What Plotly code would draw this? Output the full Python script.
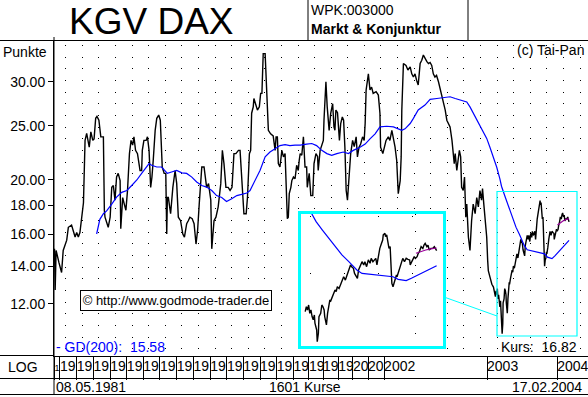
import plotly.graph_objects as go

# ---------------- data ----------------
KGV_IDX = [0, 2, 5, 9, 14, 22, 27, 38, 43, 53, 58, 64, 69, 74, 79, 85, 90, 95, 100, 102,
           108, 113, 119, 123, 128, 132, 138, 144, 152, 155, 157, 167, 173, 178, 183, 188, 193, 198, 204, 206,
           212, 216, 222, 227, 233, 238, 243, 247, 252, 258, 264, 266, 271, 273, 278, 285, 289, 294, 299, 303,
           307, 313, 318, 324, 329, 335, 341, 346, 349, 351, 354, 361, 368, 375, 380, 385, 392, 399, 404, 411,
           416, 421, 428, 434, 440, 445, 450, 458, 465, 473, 479, 486, 489, 496, 502, 509, 517, 522, 527, 533,
           540, 546, 552, 558, 564, 572, 577, 582, 589, 596, 600, 606, 610, 613, 618, 620, 627, 631, 637, 641,
           645, 649, 655, 660, 665, 672, 680, 686, 689, 693, 696, 701, 707, 712, 717, 722, 724, 727, 730, 735,
           738, 743, 748, 753, 758, 761, 764, 769, 774, 779, 784, 786, 792, 797, 803, 807, 813, 818, 820, 826,
           836, 838, 844, 848, 854, 859, 865, 869, 872, 875, 880, 886, 890, 895, 899, 903, 907, 911, 917, 921,
           927, 932, 938, 942, 947, 952, 958, 963, 966, 969, 976, 981, 986, 991, 1000, 1007, 1012, 1014, 1021, 1026,
           1031, 1038, 1043, 1049, 1054, 1059, 1064, 1066, 1069, 1075, 1078, 1080, 1085, 1093, 1099, 1106, 1111, 1116, 1121, 1126,
           1131, 1137, 1142, 1147, 1152, 1158, 1163, 1168, 1173, 1178, 1183, 1188, 1194, 1199, 1204, 1209, 1215, 1220, 1225, 1230,
           1236, 1240, 1243, 1246, 1251, 1255, 1259, 1263, 1266, 1271, 1275, 1279, 1282, 1287, 1292, 1297, 1302, 1308, 1313, 1318,
           1323, 1328, 1331, 1335, 1339, 1344, 1347, 1349, 1354, 1360, 1365,
           1371, 1373, 1375, 1377, 1379, 1381, 1383, 1385, 1387, 1388, 1391, 1392, 1394, 1395, 1398, 1400, 1402, 1404, 1405, 1408,
           1410, 1411, 1414, 1415, 1418, 1421, 1423, 1425, 1427, 1430, 1432, 1435, 1438, 1441, 1444, 1447, 1450, 1452, 1455, 1457,
           1459, 1462, 1464, 1467, 1470, 1473, 1475, 1478, 1481, 1484, 1486, 1489, 1491, 1494, 1496, 1498, 1501, 1504, 1506, 1507,
           1510, 1511, 1513, 1515, 1517, 1519, 1521, 1522, 1524, 1526, 1528, 1530, 1531, 1534, 1535, 1537, 1540, 1541, 1544, 1547,
           1550, 1553, 1554, 1557, 1559, 1561, 1563, 1566, 1568, 1570, 1573, 1576, 1578, 1580, 1583, 1585, 1587, 1590, 1593, 1596,
           1600]
KGV_VAL = [15.05, 12.70, 14.95, 14.55, 14.20, 13.65, 14.95, 15.60, 16.45, 16.60, 16.25, 15.80, 16.10, 15.80, 16.10, 17.40, 18.20, 23.55, 24.25, 23.90,
           22.90, 24.40, 23.55, 23.70, 25.80, 26.00, 25.60, 23.90, 23.90, 17.65, 17.15, 16.45, 17.15, 19.40, 19.55, 18.40, 20.25, 20.55, 19.95, 16.35,
           18.60, 18.20, 17.65, 19.15, 22.30, 23.55, 23.10, 23.90, 22.60, 22.30, 21.40, 20.80, 20.80, 22.60, 23.55, 23.55, 23.90, 22.60, 19.40, 20.25,
           21.70, 24.55, 25.80, 26.15, 25.60, 21.10, 20.55, 20.55, 16.00, 18.60, 18.60, 17.40, 19.40, 20.80, 19.70, 17.15, 16.90, 16.00, 15.80, 16.70,
           16.90, 17.15, 17.05, 16.70, 15.35, 16.25, 18.10, 21.10, 21.10, 19.40, 19.70, 18.40, 15.05, 16.90, 17.15, 17.90, 19.70, 22.60, 21.40, 19.40,
           19.40, 19.15, 19.40, 22.30, 22.30, 22.60, 22.60, 19.95, 17.40, 17.40, 18.60, 22.30, 22.60, 26.35, 27.05, 28.00, 27.25, 26.70, 27.05, 28.60,
           28.60, 33.70, 33.70, 29.00, 24.55, 24.20, 24.00, 22.60, 23.90, 23.90, 21.40, 21.10, 22.60, 22.00, 22.30, 18.40, 17.05, 17.15, 18.90, 19.40,
           19.95, 20.25, 20.10, 21.25, 20.80, 21.70, 22.30, 22.15, 23.90, 21.10, 21.10, 19.40, 20.55, 18.75, 18.75, 21.40, 22.30, 22.05, 20.80, 22.60,
           23.55, 25.60, 30.00, 27.05, 24.55, 26.35, 27.40, 24.90, 24.55, 26.70, 26.40, 23.55, 25.25, 25.95, 25.60, 22.90, 19.15, 18.40, 20.80, 22.30,
           23.55, 22.95, 23.90, 22.00, 22.90, 23.20, 23.90, 23.55, 25.25, 29.00, 31.00, 29.00, 29.35, 28.60, 28.80, 28.40, 26.35, 22.90, 22.30, 22.95,
           23.55, 23.90, 23.55, 24.55, 23.70, 22.90, 21.70, 20.55, 18.90, 19.95, 22.00, 26.70, 32.35, 32.10, 31.50, 31.90, 31.00, 30.60, 31.00, 30.20,
           29.60, 32.35, 32.80, 33.50, 33.00, 32.60, 32.35, 32.50, 32.10, 31.00, 30.60, 30.80, 30.00, 29.20, 28.20, 27.40, 26.70, 25.60, 25.25, 24.90,
           23.55, 22.60, 21.40, 22.30, 20.80, 21.70, 22.60, 22.00, 19.40, 19.15, 20.25, 17.15, 18.10, 15.80, 14.95, 16.90, 18.10, 17.40, 18.60, 17.90,
           19.15, 18.40, 19.30, 18.10, 16.90, 15.80, 14.35, 13.75, 13.40, 13.00, 12.85,
           12.35, 12.66, 12.45, 12.77, 12.24, 12.45, 12.04, 11.84, 12.14, 11.64, 11.25, 10.60, 11.06, 12.04, 12.24, 12.77, 12.66, 12.45, 12.04, 11.54,
           12.24, 12.45, 13.10, 12.99, 13.32, 13.55, 13.78, 13.66, 14.01, 13.89, 14.13, 14.37, 14.74, 14.49, 14.87, 15.25, 15.65, 15.51, 15.38, 14.99,
           14.87, 14.62, 15.25, 15.65, 15.91, 15.65, 15.91, 15.51, 16.05, 15.78, 16.18, 15.91, 16.05, 16.18, 15.65, 16.32, 17.02, 17.46, 17.76, 18.22,
           18.37, 18.06, 18.22, 17.61, 17.02, 17.17, 15.65, 14.25, 14.01, 14.37, 14.49, 14.87, 14.74, 15.12, 15.38, 15.65, 16.05, 16.18, 15.91, 16.18,
           16.10, 16.05, 15.65, 15.91, 16.05, 16.32, 16.18, 16.32, 16.60, 16.74, 17.17, 17.02, 17.31, 17.46, 17.17, 17.31, 16.88, 17.02, 17.02, 17.17,
           16.82]

GD200_IDX = [131, 136, 141, 152, 162, 178, 193, 209, 225, 240, 256, 271, 287, 294, 302, 318, 333, 344, 351, 364,
             380, 396, 411, 427, 442, 458, 473, 489, 504, 520, 535, 551, 567, 582, 598, 608, 624, 639, 655, 670,
             686, 701, 717, 732, 748, 764, 784, 800, 815, 831, 847, 862, 878, 898, 914, 929, 950, 966, 981, 997,
             1012, 1033, 1054, 1069, 1080, 1090, 1106, 1116, 1131, 1152, 1168, 1189, 1209, 1230, 1246, 1261, 1282, 1292, 1302, 1313,
             1329, 1344, 1354, 1365, 1375, 1385, 1390, 1401, 1412, 1424, 1435, 1447, 1453, 1461, 1470, 1481, 1493, 1504, 1516, 1524,
             1533, 1538, 1547, 1556, 1567, 1579, 1590, 1600]
GD200_VAL = [16.00, 16.46, 17.00, 17.40, 17.60, 18.10, 18.63, 19.00, 19.15, 19.55, 20.00, 20.55, 21.10, 21.40, 21.25, 21.10, 21.10, 20.80, 20.55, 20.67,
             20.80, 20.60, 20.55, 20.24, 19.83, 19.55, 19.42, 19.15, 18.75, 18.60, 18.30, 18.50, 18.75, 18.85, 18.95, 19.15, 20.00, 20.80, 22.00, 22.45,
             22.75, 23.05, 23.15, 23.05, 23.10, 23.10, 23.20, 23.25, 23.05, 22.60, 22.30, 22.15, 22.30, 22.45, 22.30, 22.60, 22.90, 23.20, 23.70, 24.20,
             24.90, 24.97, 24.90, 24.70, 24.55, 24.70, 25.25, 25.80, 26.70, 27.25, 27.90, 28.00, 28.10, 28.20, 28.00, 27.80, 27.60, 27.05, 26.35, 25.60,
             24.70, 23.75, 22.90, 22.00, 21.10, 20.10, 19.49, 18.68, 17.91, 17.17, 16.46, 15.91, 15.65, 15.25, 14.99, 14.94, 14.92, 14.87, 14.82, 14.74,
             14.54, 14.49, 14.45, 14.62, 14.87, 15.12, 15.38, 15.58]

GDS_IDX = [1564, 1572, 1581, 1590, 1600]
GDS_VAL = [16.60, 16.74, 16.88, 16.98, 17.05]

YEAR_TICKS = [0, 17, 69, 121, 173, 225, 276, 328, 380, 432, 484, 536, 587, 639, 691,
              743, 791, 835, 882, 928, 975, 1025, 1345, 1563]
YEAR_LABELS = ["<span style='font-size:9px'>1</span>"] + ["19"] * 18 + ["20", "20", "2002", "2003", "2004"]

Y_TICKS = [12, 14, 16, 18, 20, 25, 30]
Y_TICKTEXT = ["%.2f" % v for v in Y_TICKS]

INSET_START = 1371
INSET_GRID_X = [1563]
INSET_GRID_Y = [15, 20]
LAST_KURS = "16.82"
LAST_GD = "15.58"

# ---------------- layout helpers ----------------
W, H = 588, 397
L, T, B = 54, 40, 41
PW, PH = W - L, H - T - B
FONT = "Liberation Sans, Arial, sans-serif"
BLUE = "#0000FF"
CYAN = "#00FFFF"
PURPLE = "#990099"


def px(x):
    return (x - L) / PW


def py(y):
    return (T + PH - y) / PH


fig = go.Figure()

# main chart
fig.add_trace(go.Scatter(x=KGV_IDX, y=KGV_VAL, mode="lines",
                         line=dict(color="black", width=1.4), xaxis="x", yaxis="y"))
fig.add_trace(go.Scatter(x=GD200_IDX, y=GD200_VAL, mode="lines",
                         line=dict(color=BLUE, width=1.2), xaxis="x", yaxis="y"))
fig.add_trace(go.Scatter(x=GDS_IDX, y=GDS_VAL, mode="lines",
                         line=dict(color=PURPLE, width=1.2), xaxis="x", yaxis="y"))
# carrier for the year-label axis (empty)
fig.add_trace(go.Scatter(x=[], y=[], xaxis="x3", yaxis="y"))

# inset (magnified tail)
ki = [i for i, v in enumerate(KGV_IDX) if v >= INSET_START]
gi = [i for i, v in enumerate(GD200_IDX) if v >= INSET_START]
fig.add_trace(go.Scatter(x=[KGV_IDX[i] for i in ki], y=[KGV_VAL[i] for i in ki], mode="lines",
                         line=dict(color="black", width=1.4), xaxis="x2", yaxis="y2"))
fig.add_trace(go.Scatter(x=[GD200_IDX[i] for i in gi], y=[GD200_VAL[i] for i in gi], mode="lines",
                         line=dict(color=BLUE, width=1.2), xaxis="x2", yaxis="y2"))
fig.add_trace(go.Scatter(x=GDS_IDX, y=GDS_VAL, mode="lines",
                         line=dict(color=PURPLE, width=1.2), xaxis="x2", yaxis="y2"))

XR = [-1.6, 1659]

fig.update_layout(
    width=W, height=H, margin=dict(l=L, r=0, t=T, b=B, pad=0),
    paper_bgcolor="white", plot_bgcolor="white", showlegend=False,
    font=dict(family=FONT, size=14, color="black"),
    xaxis=dict(range=XR, showgrid=False, zeroline=False, showline=True, linecolor="black", linewidth=1,
               ticks="outside", ticklen=23, tickcolor="black", tickwidth=1,
               tickvals=YEAR_TICKS, showticklabels=False,
               minor=dict(tick0=34.8, dtick=51.6, showgrid=True, gridcolor="black", gridwidth=1,
                          griddash="0px,5px,1px,5.67px", ticks="")),
    xaxis3=dict(range=XR, overlaying="x", anchor="y", side="bottom", showgrid=False, zeroline=False,
                showline=False, ticks="", tickvals=YEAR_TICKS, ticktext=YEAR_LABELS, tickangle=0,
                ticklabelposition="outside right", ticklabeloverflow="allow",
                tickfont=dict(size=14, family=FONT, color="black")),
    yaxis=dict(type="log", range=[0.9853, 1.5521], showgrid=False, zeroline=False, showline=True,
               linecolor="black", linewidth=1, ticks="outside", ticklen=5, tickcolor="black",
               tickvals=Y_TICKS, ticktext=Y_TICKTEXT, tickfont=dict(size=14)),
    xaxis2=dict(domain=[px(301), px(443)], anchor="y2", range=[1363.7, 1611.1],
                showgrid=True, gridcolor="black", gridwidth=1, griddash="1px,16px", tickvals=INSET_GRID_X,
                zeroline=False, showticklabels=False, ticks="", showline=True, mirror=True,
                linecolor=CYAN, linewidth=2.5),
    yaxis2=dict(domain=[py(346), py(214)], anchor="x2", type="log", range=[1.0158, 1.3067],
                showgrid=True, gridcolor="black", gridwidth=1, griddash="0px,9px,1px,24px", tickvals=INSET_GRID_Y,
                zeroline=False, showticklabels=False, ticks="", showline=True, mirror=True,
                linecolor=CYAN, linewidth=2.5),
)


def hline(y, x0=0, x1=W, color="black", width=1):
    return dict(type="line", xref="paper", yref="paper", x0=px(x0), x1=px(x1), y0=py(y), y1=py(y),
                line=dict(color=color, width=width))


def vline(x, y0, y1, color="black", width=1):
    return dict(type="line", xref="paper", yref="paper", x0=px(x), x1=px(x), y0=py(y0), y1=py(y1),
                line=dict(color=color, width=width))


shapes = [
    hline(40.5),
    hline(355.5, 0, L),
    hline(378.5, 0, W),
    hline(394.5, 0, W),
    vline(54, 37, 395),
    vline(308, 0, 40),
    vline(468, 0, 40),
    dict(type="rect", xref="paper", yref="paper", x0=px(497), x1=px(577), y0=py(336), y1=py(191.5),
         line=dict(color=CYAN, width=1.2)),
    dict(type="line", xref="paper", yref="paper", x0=px(444), y0=py(297), x1=px(497), y1=py(316),
         line=dict(color=CYAN, width=1)),
]


def note(text, x, y, xanchor="left", size=14, color="black", **kw):
    return dict(text=text, x=px(x), y=py(y), xref="paper", yref="paper", xanchor=xanchor,
                yanchor="middle", showarrow=False, font=dict(size=size, color=color, family=FONT), **kw)


annotations = [
    note("KGV DAX", 151.5, 21.5, xanchor="center", size=37),
    note("WPK:003000", 309, 10, size=14),
    note("<b>Markt & Konjunktur</b>", 309, 29, size=14),
    note("Punkte", 1, 52, size=14),
    note("(c) Tai-Pan", 586, 50, xanchor="right", size=14),
    note("© http://www.godmode-trader.de", 176, 300.5, xanchor="center", size=13,
         bordercolor="black", borderwidth=1, bgcolor="white", borderpad=1, width=188, height=17),
    note("- GD(200):  " + LAST_GD, 54, 347, size=14, color=BLUE),
    note("Kurs:  " + LAST_KURS, 499, 347, size=14),
    note("LOG", 6, 367, size=14),
    note("08.05.1981", 54, 387, size=14),
    note("1601 Kurse", 305, 387, xanchor="center", size=14),
    note("17.02.2004", 584, 387, xanchor="right", size=14),
]

fig.update_layout(shapes=shapes, annotations=annotations)

fig.write_html("out.html", config={"displayModeBar": False},
               post_script="document.body.style.margin='0px';")
